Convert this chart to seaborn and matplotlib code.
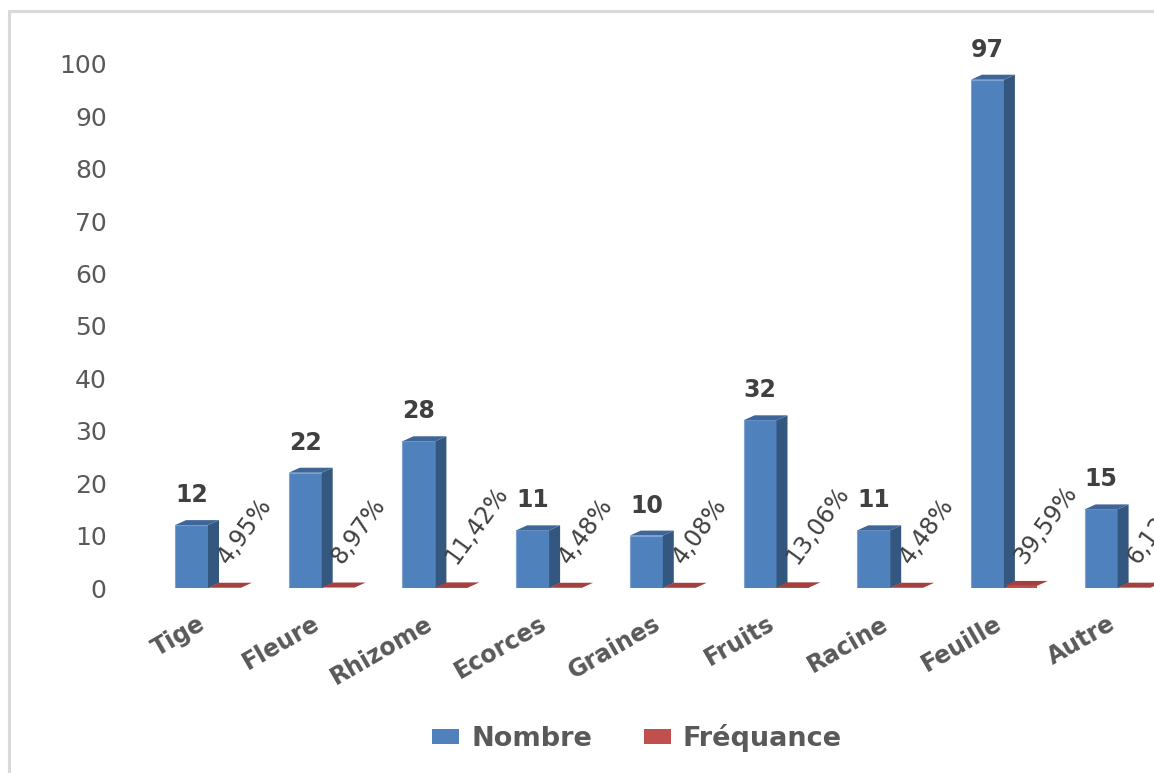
import matplotlib
matplotlib.use("Agg")
import matplotlib.pyplot as plt
from matplotlib.patches import Polygon, Patch
from matplotlib.lines import Line2D
import seaborn as sns
import pandas as pd

# Plant parts used and their counts / share of recipes
categories = ["Tige", "Fleure", "Rhizome", "Ecorces", "Graines",
              "Fruits", "Racine", "Feuille", "Autre"]
nombre = [12, 22, 28, 11, 10, 32, 11, 97, 15]
frequence_pct = [4.95, 8.97, 11.42, 4.48, 4.08, 13.06, 4.48, 39.59, 6.12]
series_names = ["Nombre", "Fréquance"]
y_ticks = list(range(0, 101, 10))

BLUE = "#4f81bd"
BLUE_EDGE = "#7ea3d3"
BLUE_SIDE = "#34577f"
BLUE_TOP = "#3f6699"
RED = "#c0504d"
RED_TOP = "#a4403d"
TEXT = "#595959"
LABEL = "#404040"

df = pd.DataFrame({
    "partie": categories * 2,
    "valeur": nombre + [p / 100 for p in frequence_pct],
    "serie": [series_names[0]] * len(categories) + [series_names[1]] * len(categories),
})

sns.set_theme(style="white")
plt.rcParams["font.family"] = ["DejaVu Sans"]

W, H = 1154, 773
fig = plt.figure(figsize=(W / 100, H / 100), dpi=100)
fig.patch.set_facecolor("white")

# axes placement in pixels: category i sits at x = 208 + 113.7*i, y=0 at 588, 10 units = 52.4 px
px_per_cat = 113.7
px_per_unit = 5.24
left_px, right_px = 115, 1180
xmin = (left_px - 208) / px_per_cat
xmax = (right_px - 208) / px_per_cat
ytop = 105
ax = fig.add_axes([left_px / W, (H - 588) / H,
                   (right_px - left_px) / W, ytop * px_per_unit / H])

sns.barplot(data=df, x="partie", y="valeur", hue="serie", order=categories,
            hue_order=series_names, palette={series_names[0]: BLUE, series_names[1]: RED},
            width=0.58, dodge=True, legend=False, ax=ax, saturation=1,
            edgecolor="none", linewidth=0)

ax.set_xlim(xmin, xmax)
ax.set_ylim(0, ytop)
for s in ax.spines.values():
    s.set_visible(False)
ax.set_xlabel("")
ax.set_ylabel("")
ax.set_yticks(y_ticks)
ax.set_yticklabels([str(t) for t in y_ticks], fontsize=18, color=TEXT)
ax.tick_params(axis="y", length=0, pad=6)
ax.tick_params(axis="x", length=0, pad=17)
ax.set_xticks([i - 0.09 for i in range(len(categories))])
ax.set_xticklabels(categories, rotation=30, ha="right", rotation_mode="anchor",
                   fontsize=17, fontweight="bold", color=TEXT)

# pseudo-3D depth of each column
dx = 11 / px_per_cat
dy = 5 / px_per_unit

blue_bars = ax.containers[0]
red_bars = ax.containers[1]

for bar, v in zip(blue_bars, nombre):
    bar.set_edgecolor(BLUE_EDGE)
    bar.set_linewidth(0.8)
    x0 = bar.get_x()
    x1 = x0 + bar.get_width()
    h = bar.get_height()
    side = Polygon([(x1, 0), (x1 + dx, dy), (x1 + dx, h + dy), (x1, h)],
                   closed=True, facecolor=BLUE_SIDE, edgecolor="none", clip_on=False, zorder=3)
    top = Polygon([(x0, h), (x1, h), (x1 + dx, h + dy), (x0 + dx, h + dy)],
                  closed=True, facecolor=BLUE_TOP, edgecolor="none", clip_on=False, zorder=3)
    ax.add_patch(side)
    ax.add_patch(top)
    ax.text((x0 + x1) / 2, h + 4.4, str(v), ha="center", va="baseline",
            fontsize=17, fontweight="bold", color=LABEL, clip_on=False)

for i, (bar, p) in enumerate(zip(red_bars, frequence_pct)):
    x0 = bar.get_x()
    x1 = x0 + bar.get_width()
    h = bar.get_height()
    top = Polygon([(x0, h), (x1, h), (x1 + dx, h + dy), (x0 + dx, h + dy)],
                  closed=True, facecolor=RED_TOP, edgecolor="none", clip_on=False, zorder=3)
    ax.add_patch(top)
    label = f"{p:.2f}".replace(".", ",") + "%"
    ax.text(i + 0.18, 4.3, label, rotation=54, rotation_mode="anchor",
            ha="left", va="baseline", fontsize=17, color=LABEL, clip_on=False)

# legend below the plot
handles = [Patch(facecolor=BLUE, edgecolor="none"), Patch(facecolor=RED, edgecolor="none")]
leg = fig.legend(handles, series_names, loc="center", bbox_to_anchor=(637 / W, 1 - 738 / H),
                 ncol=2, frameon=False, handlelength=1.0, handleheight=0.5,
                 handletextpad=0.45, columnspacing=1.9,
                 prop={"size": 19.5, "weight": "bold"})
for t in leg.get_texts():
    t.set_color(TEXT)

# chart-area border (top and left edges)
border = "#d9d9d9"
fig.add_artist(Line2D([9 / W, 1.0], [1 - 11 / H, 1 - 11 / H], color=border, lw=2.2,
                      transform=fig.transFigure))
fig.add_artist(Line2D([9 / W, 9 / W], [0, 1 - 11 / H], color=border, lw=2.2,
                      transform=fig.transFigure))

fig.savefig("out.png", dpi=100, facecolor="white")
